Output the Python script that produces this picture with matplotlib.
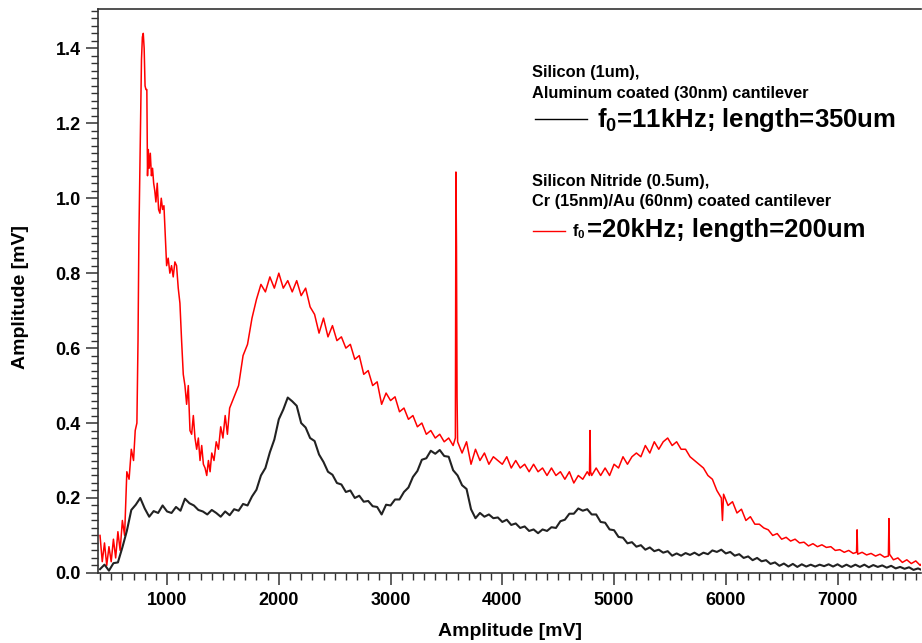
import matplotlib
matplotlib.use("Agg")
import matplotlib.pyplot as plt
from matplotlib.lines import Line2D
from matplotlib.ticker import MultipleLocator

plt.rcParams['font.family'] = ['Liberation Sans', 'DejaVu Sans']
plt.rcParams['font.weight'] = 'bold'
plt.rcParams['mathtext.fontset'] = 'custom'
plt.rcParams['mathtext.rm'] = 'Liberation Sans:bold'
plt.rcParams['mathtext.it'] = 'Liberation Sans:bold'
plt.rcParams['mathtext.bf'] = 'Liberation Sans:bold'

# black: silicon cantilever, f0 = 11 kHz
si_freq = [
    400, 440, 480, 520, 560, 600, 640, 680, 720, 760,
    800, 840, 880, 920, 960, 1000, 1040, 1080, 1120, 1160,
    1200, 1240, 1280, 1320, 1360, 1400, 1440, 1480, 1520, 1560,
    1600, 1640, 1680, 1720, 1760, 1800, 1840, 1880, 1920, 1960,
    2000, 2040, 2080, 2120, 2160, 2200, 2240, 2280, 2320, 2360,
    2400, 2440, 2480, 2520, 2560, 2600, 2640, 2680, 2720, 2760,
    2800, 2840, 2880, 2920, 2960, 3000, 3040, 3080, 3120, 3160,
    3200, 3240, 3280, 3320, 3360, 3400, 3440, 3480, 3520, 3560,
    3600, 3640, 3680, 3720, 3760, 3800, 3840, 3880, 3920, 3960,
    4000, 4040, 4080, 4120, 4160, 4200, 4240, 4280, 4320, 4360,
    4400, 4440, 4480, 4520, 4560, 4600, 4640, 4680, 4720, 4760,
    4800, 4840, 4880, 4920, 4960, 5000, 5040, 5080, 5120, 5160,
    5200, 5240, 5280, 5320, 5360, 5400, 5440, 5480, 5520, 5560,
    5600, 5640, 5680, 5720, 5760, 5800, 5840, 5880, 5920, 5960,
    6000, 6040, 6080, 6120, 6160, 6200, 6240, 6280, 6320, 6360,
    6400, 6440, 6480, 6520, 6560, 6600, 6640, 6680, 6720, 6760,
    6800, 6840, 6880, 6920, 6960, 7000, 7040, 7080, 7120, 7160,
    7200, 7240, 7280, 7320, 7360, 7400, 7440, 7480, 7520, 7560,
    7600, 7640, 7680, 7720, 7760,
]
si_amp = [
    0.010, 0.022, 0.006, 0.026, 0.028, 0.068, 0.112, 0.168, 0.182, 0.200,
    0.172, 0.150, 0.165, 0.160, 0.180, 0.164, 0.160, 0.176, 0.166, 0.198,
    0.186, 0.180, 0.168, 0.164, 0.156, 0.168, 0.160, 0.150, 0.164, 0.154,
    0.170, 0.166, 0.184, 0.180, 0.204, 0.222, 0.260, 0.280, 0.322, 0.356,
    0.410, 0.436, 0.468, 0.458, 0.446, 0.400, 0.388, 0.360, 0.352, 0.316,
    0.296, 0.270, 0.262, 0.240, 0.236, 0.216, 0.220, 0.200, 0.206, 0.190,
    0.192, 0.178, 0.176, 0.156, 0.182, 0.180, 0.196, 0.196, 0.216, 0.228,
    0.256, 0.272, 0.302, 0.306, 0.326, 0.318, 0.328, 0.312, 0.310, 0.274,
    0.260, 0.234, 0.224, 0.170, 0.146, 0.160, 0.150, 0.156, 0.146, 0.148,
    0.136, 0.142, 0.128, 0.132, 0.120, 0.124, 0.112, 0.116, 0.106, 0.116,
    0.112, 0.122, 0.120, 0.138, 0.142, 0.158, 0.158, 0.172, 0.166, 0.170,
    0.156, 0.156, 0.136, 0.134, 0.116, 0.114, 0.096, 0.094, 0.079, 0.082,
    0.070, 0.074, 0.062, 0.068, 0.058, 0.062, 0.054, 0.058, 0.046, 0.052,
    0.046, 0.053, 0.048, 0.054, 0.047, 0.054, 0.050, 0.060, 0.056, 0.062,
    0.052, 0.056, 0.046, 0.050, 0.040, 0.044, 0.034, 0.040, 0.031, 0.034,
    0.024, 0.028, 0.019, 0.025, 0.017, 0.024, 0.016, 0.023, 0.017, 0.022,
    0.017, 0.022, 0.018, 0.023, 0.017, 0.023, 0.016, 0.022, 0.016, 0.022,
    0.016, 0.022, 0.015, 0.021, 0.016, 0.020, 0.014, 0.019, 0.012, 0.016,
    0.011, 0.015, 0.008, 0.012, 0.007,
]

# red: silicon nitride cantilever, f0 = 20 kHz
sin_freq = [
    400, 420, 440, 460, 480, 500, 520, 540, 560, 580,
    600, 620, 640, 660, 680, 700, 715, 730, 740, 748,
    755, 763, 771, 779, 787, 795, 803, 811, 819, 825,
    832, 840, 850, 860, 870, 880, 890, 900, 912, 924,
    936, 948, 960, 972, 984, 996, 1010, 1025, 1040, 1055,
    1070, 1085, 1100, 1115, 1130, 1145, 1160, 1175, 1190, 1205,
    1220, 1235, 1250, 1265, 1280, 1295, 1310, 1325, 1340, 1355,
    1370, 1385, 1400, 1420, 1440, 1460, 1480, 1500, 1520, 1540,
    1560, 1600, 1640, 1680, 1720, 1760, 1800, 1840, 1880, 1920,
    1960, 2000, 2040, 2080, 2120, 2160, 2200, 2240, 2280, 2320,
    2360, 2400, 2440, 2480, 2520, 2560, 2600, 2640, 2680, 2720,
    2760, 2800, 2840, 2880, 2920, 2960, 3000, 3040, 3080, 3120,
    3160, 3200, 3240, 3280, 3320, 3360, 3400, 3440, 3480, 3520,
    3560, 3580, 3585, 3590, 3595, 3600, 3640, 3680, 3720, 3760,
    3800, 3840, 3880, 3920, 3960, 4000, 4040, 4080, 4120, 4160,
    4200, 4240, 4280, 4320, 4360, 4400, 4440, 4480, 4520, 4560,
    4600, 4640, 4680, 4720, 4760, 4780, 4785, 4790, 4800, 4840,
    4880, 4920, 4960, 5000, 5040, 5080, 5120, 5160, 5200, 5240,
    5280, 5320, 5360, 5400, 5440, 5480, 5520, 5560, 5600, 5640,
    5680, 5720, 5760, 5800, 5840, 5880, 5920, 5960, 5970, 5980,
    6020, 6060, 6100, 6140, 6180, 6220, 6260, 6300, 6340, 6380,
    6420, 6460, 6500, 6540, 6580, 6620, 6660, 6700, 6740, 6780,
    6820, 6860, 6900, 6940, 6980, 7020, 7060, 7100, 7140, 7170,
    7175, 7180, 7220, 7260, 7300, 7340, 7380, 7420, 7455, 7460,
    7465, 7500, 7540, 7580, 7620, 7660, 7700, 7740, 7760,
]
sin_amp = [
    0.10, 0.03, 0.08, 0.02, 0.07, 0.03, 0.09, 0.04, 0.11, 0.06,
    0.14, 0.10, 0.27, 0.25, 0.33, 0.30, 0.38, 0.40, 0.62, 0.90,
    1.04, 1.21, 1.37, 1.43, 1.44, 1.40, 1.30, 1.29, 1.29, 1.06,
    1.13, 1.08, 1.12, 1.06, 1.08, 1.04, 1.02, 0.99, 1.04, 0.97,
    0.96, 1.00, 0.97, 0.98, 0.90, 0.82, 0.84, 0.80, 0.82, 0.79,
    0.83, 0.82, 0.76, 0.72, 0.62, 0.53, 0.50, 0.45, 0.50, 0.38,
    0.37, 0.42, 0.36, 0.33, 0.36, 0.30, 0.34, 0.29, 0.28, 0.26,
    0.30, 0.27, 0.32, 0.30, 0.35, 0.33, 0.39, 0.36, 0.42, 0.37,
    0.44, 0.47, 0.50, 0.58, 0.61, 0.68, 0.73, 0.77, 0.75, 0.79,
    0.76, 0.80, 0.76, 0.78, 0.75, 0.78, 0.74, 0.76, 0.71, 0.69,
    0.64, 0.68, 0.63, 0.66, 0.62, 0.63, 0.60, 0.61, 0.57, 0.58,
    0.53, 0.54, 0.50, 0.51, 0.45, 0.48, 0.46, 0.47, 0.43, 0.44,
    0.41, 0.42, 0.39, 0.40, 0.37, 0.38, 0.36, 0.37, 0.35, 0.36,
    0.34, 0.36, 1.07, 0.87, 0.47, 0.35, 0.32, 0.35, 0.29, 0.33,
    0.30, 0.32, 0.29, 0.31, 0.30, 0.29, 0.31, 0.28, 0.30, 0.28,
    0.29, 0.27, 0.29, 0.27, 0.28, 0.26, 0.28, 0.26, 0.27, 0.25,
    0.27, 0.24, 0.26, 0.25, 0.27, 0.26, 0.38, 0.27, 0.26, 0.28,
    0.26, 0.28, 0.26, 0.29, 0.28, 0.31, 0.29, 0.31, 0.32, 0.31,
    0.34, 0.32, 0.35, 0.33, 0.35, 0.36, 0.34, 0.35, 0.33, 0.33,
    0.31, 0.30, 0.29, 0.28, 0.26, 0.25, 0.22, 0.20, 0.14, 0.21,
    0.18, 0.19, 0.16, 0.17, 0.14, 0.15, 0.13, 0.13, 0.12, 0.115,
    0.10, 0.105, 0.09, 0.095, 0.085, 0.09, 0.08, 0.082, 0.072, 0.078,
    0.07, 0.075, 0.068, 0.07, 0.06, 0.062, 0.055, 0.06, 0.052, 0.055,
    0.115, 0.05, 0.055, 0.048, 0.052, 0.045, 0.05, 0.042, 0.045, 0.145,
    0.05, 0.035, 0.04, 0.028, 0.035, 0.025, 0.032, 0.02, 0.028,
]

fig = plt.figure(figsize=(9.22, 6.43), dpi=100)
ax = fig.add_axes([0.1063, 0.109, 0.893, 0.877])

ax.plot(sin_freq, sin_amp, color='#ff0000', lw=1.1)
ax.plot(si_freq, si_amp, color='#222222', lw=1.5)

ax.set_xlim(382, 7750)
ax.set_ylim(0, 1.505)
ax.xaxis.set_major_locator(MultipleLocator(1000))
ax.xaxis.set_minor_locator(MultipleLocator(100))
ax.yaxis.set_major_locator(MultipleLocator(0.2))
ax.yaxis.set_minor_locator(MultipleLocator(0.02))
ax.yaxis.set_major_formatter(lambda v, p: f'{v:.1f}')

for s in ['top', 'left', 'bottom']:
    ax.spines[s].set_color('#333333')
    ax.spines[s].set_linewidth(1.2)
ax.spines['right'].set_visible(False)

ax.tick_params(which='major', length=8.5, width=1.1, color='#333333',
               labelsize=13, pad=4)
ax.tick_params(which='minor', length=5.2, width=1.0, color='#333333')
ax.tick_params(axis='x', which='major', pad=5)

ax.set_xlabel('Amplitude [mV]', fontsize=14, fontweight='bold')
ax.set_ylabel('Amplitude [mV]', fontsize=14, fontweight='bold')
ax.xaxis.set_label_coords(0.5, -0.088)
ax.yaxis.set_label_coords(-0.084, 0.49)

# legend block, laid out by hand like the original
small = 11.8
big = 18.5
fig.text(0.577, 0.888, 'Silicon (1um),', fontsize=small, fontweight='bold', va='center')
fig.text(0.577, 0.855, 'Aluminum coated (30nm) cantilever', fontsize=small,
         fontweight='bold', va='center')
fig.add_artist(Line2D([0.580, 0.637], [0.815, 0.815], color='black', lw=1.0))
fig.text(0.6475, 0.803, r'f$_0$=11kHz; length=350um', fontsize=big,
         fontweight='bold', va='baseline')

fig.text(0.577, 0.717, 'Silicon Nitride (0.5um),', fontsize=small,
         fontweight='bold', va='center')
fig.text(0.577, 0.686, 'Cr (15nm)/Au (60nm) coated cantilever', fontsize=small,
         fontweight='bold', va='center')
fig.add_artist(Line2D([0.578, 0.613], [0.641, 0.641], color='#ff0000', lw=1.0))
fig.text(0.620, 0.632, r'f$_0$', fontsize=small, fontweight='bold', va='baseline')
fig.text(0.637, 0.632, '=20kHz; length=200um', fontsize=big, fontweight='bold',
         va='baseline')

fig.savefig('out.png', dpi=100)
